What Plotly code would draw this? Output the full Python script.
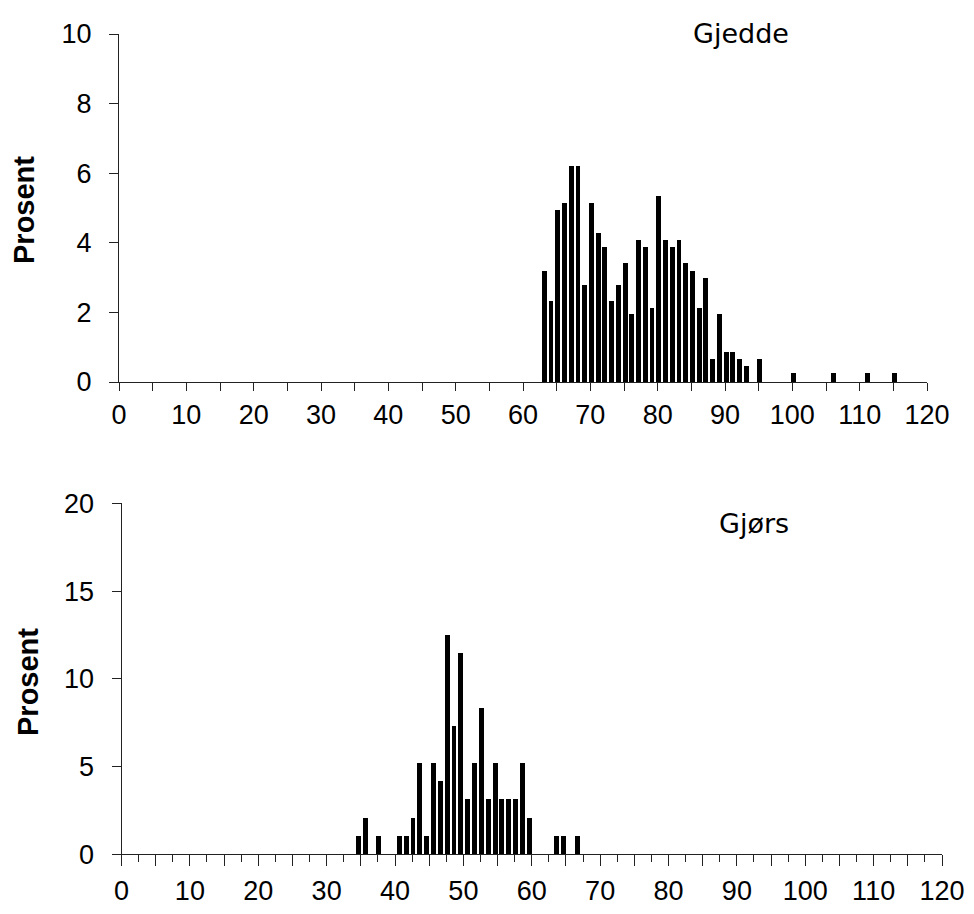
import plotly.graph_objects as go

# ---- data ----
gjedde_len = [63, 64, 65, 66, 67, 68, 69, 70, 71, 72, 73, 74, 75, 76, 77, 78, 79, 80,
              81, 82, 83, 84, 85, 86, 87, 88, 89, 90, 91, 92, 93, 95, 100, 106, 111, 115]
gjedde_pct = [3.2, 2.34, 4.94, 5.13, 6.22, 6.22, 2.80, 5.13, 4.27, 3.87, 2.34, 2.80, 3.41,
              1.94, 4.08, 3.87, 2.14, 5.35, 4.08, 3.87, 4.08, 3.41, 3.2, 2.14, 3.0, 0.66,
              1.94, 0.86, 0.86, 0.66, 0.46, 0.66, 0.25, 0.25, 0.25, 0.25]

gjors_len = [34, 35, 37, 40, 41, 42, 43, 44, 45, 46, 47, 48, 49, 50, 51, 52, 53, 54, 55,
             56, 57, 58, 59, 63, 64, 66]
gjors_pct = [1.04, 2.08, 1.04, 1.04, 1.04, 2.08, 5.21, 1.04, 5.21, 4.17, 12.5, 7.29, 11.46,
             3.13, 5.21, 8.33, 3.13, 5.21, 3.13, 3.13, 3.13, 5.21, 2.08, 1.04, 1.04, 1.04]

x_labels = [str(v) for v in range(0, 121, 10)]
top_yticks = [0, 2, 4, 6, 8, 10]
bot_yticks = [0, 5, 10, 15, 20]

W, H = 974, 914
TICKFONT = dict(family="Liberation Sans, Arial, sans-serif", size=27, color="black")
AXC = "#222222"

fig = go.Figure()
fig.add_trace(go.Bar(x=gjedde_len, y=gjedde_pct, width=0.72, offset=-0.2,
                     marker=dict(color="black", line=dict(width=0)),
                     xaxis="x", yaxis="y", showlegend=False))
fig.add_trace(go.Bar(x=gjors_len, y=gjors_pct, width=0.72, offset=0.2,
                     marker=dict(color="black", line=dict(width=0)),
                     xaxis="x2", yaxis="y2", showlegend=False))

def px(v):
    return v / W

def py(v):
    return 1 - v / H

common = dict(showgrid=False, zeroline=False, automargin=False,
              showline=True, linecolor=AXC, linewidth=1, tickcolor=AXC, tickwidth=1,
              tickfont=TICKFONT)

fig.update_layout(
    width=W, height=H,
    margin=dict(l=0, r=0, t=0, b=0, pad=0, autoexpand=False),
    paper_bgcolor="white", plot_bgcolor="white",
    bargap=0,
    xaxis=dict(domain=[px(119), px(927)], range=[0, 120], anchor="y",
               tickmode="array", tickvals=list(range(0, 121, 10)), ticktext=x_labels,
               ticks="outside", ticklen=8,
               minor=dict(dtick=5, tick0=0, ticks="outside", ticklen=8, tickcolor=AXC),
               ticklabelstandoff=1, **common),
    yaxis=dict(domain=[py(382), py(34)], range=[0, 10], anchor="x",
               tickmode="array", tickvals=top_yticks,
               ticks="outside", ticklen=9, ticklabelstandoff=12, **common),
    xaxis2=dict(domain=[px(121.5), px(942)], range=[0, 120], anchor="y2",
                tickmode="array", tickvals=list(range(0, 121, 5)),
                ticktext=[(str(v) if v % 10 == 0 else "") for v in range(0, 121, 5)],
                ticks="outside", ticklen=11,
                minor=dict(dtick=2.5, tick0=0, ticks="outside", ticklen=7, tickcolor=AXC),
                ticklabelstandoff=1, **common),
    yaxis2=dict(domain=[py(854.3), py(503.3)], range=[0, 20], anchor="x2",
                tickmode="array", tickvals=bot_yticks,
                ticks="outside", ticklen=9, ticklabelstandoff=12, **common),
)

LABFONT = dict(family="Liberation Sans, Arial, sans-serif", size=29, color="black")
TITFONT = dict(family="DejaVu Sans, Verdana, sans-serif", size=27, color="black")

fig.add_annotation(text="<b>Prosent</b>", x=px(24), y=py(210), xref="paper", yref="paper",
                   textangle=-90, showarrow=False, font=LABFONT, xanchor="center", yanchor="middle")
fig.add_annotation(text="<b>Prosent</b>", x=px(28), y=py(682), xref="paper", yref="paper",
                   textangle=-90, showarrow=False, font=LABFONT, xanchor="center", yanchor="middle")
fig.add_annotation(text="Gjedde", x=px(741), y=py(33), xref="paper", yref="paper",
                   showarrow=False, font=TITFONT, xanchor="center", yanchor="middle")
fig.add_annotation(text="Gjørs", x=px(754), y=py(523), xref="paper", yref="paper",
                   showarrow=False, font=TITFONT, xanchor="center", yanchor="middle")

fig.write_html("out.html")
